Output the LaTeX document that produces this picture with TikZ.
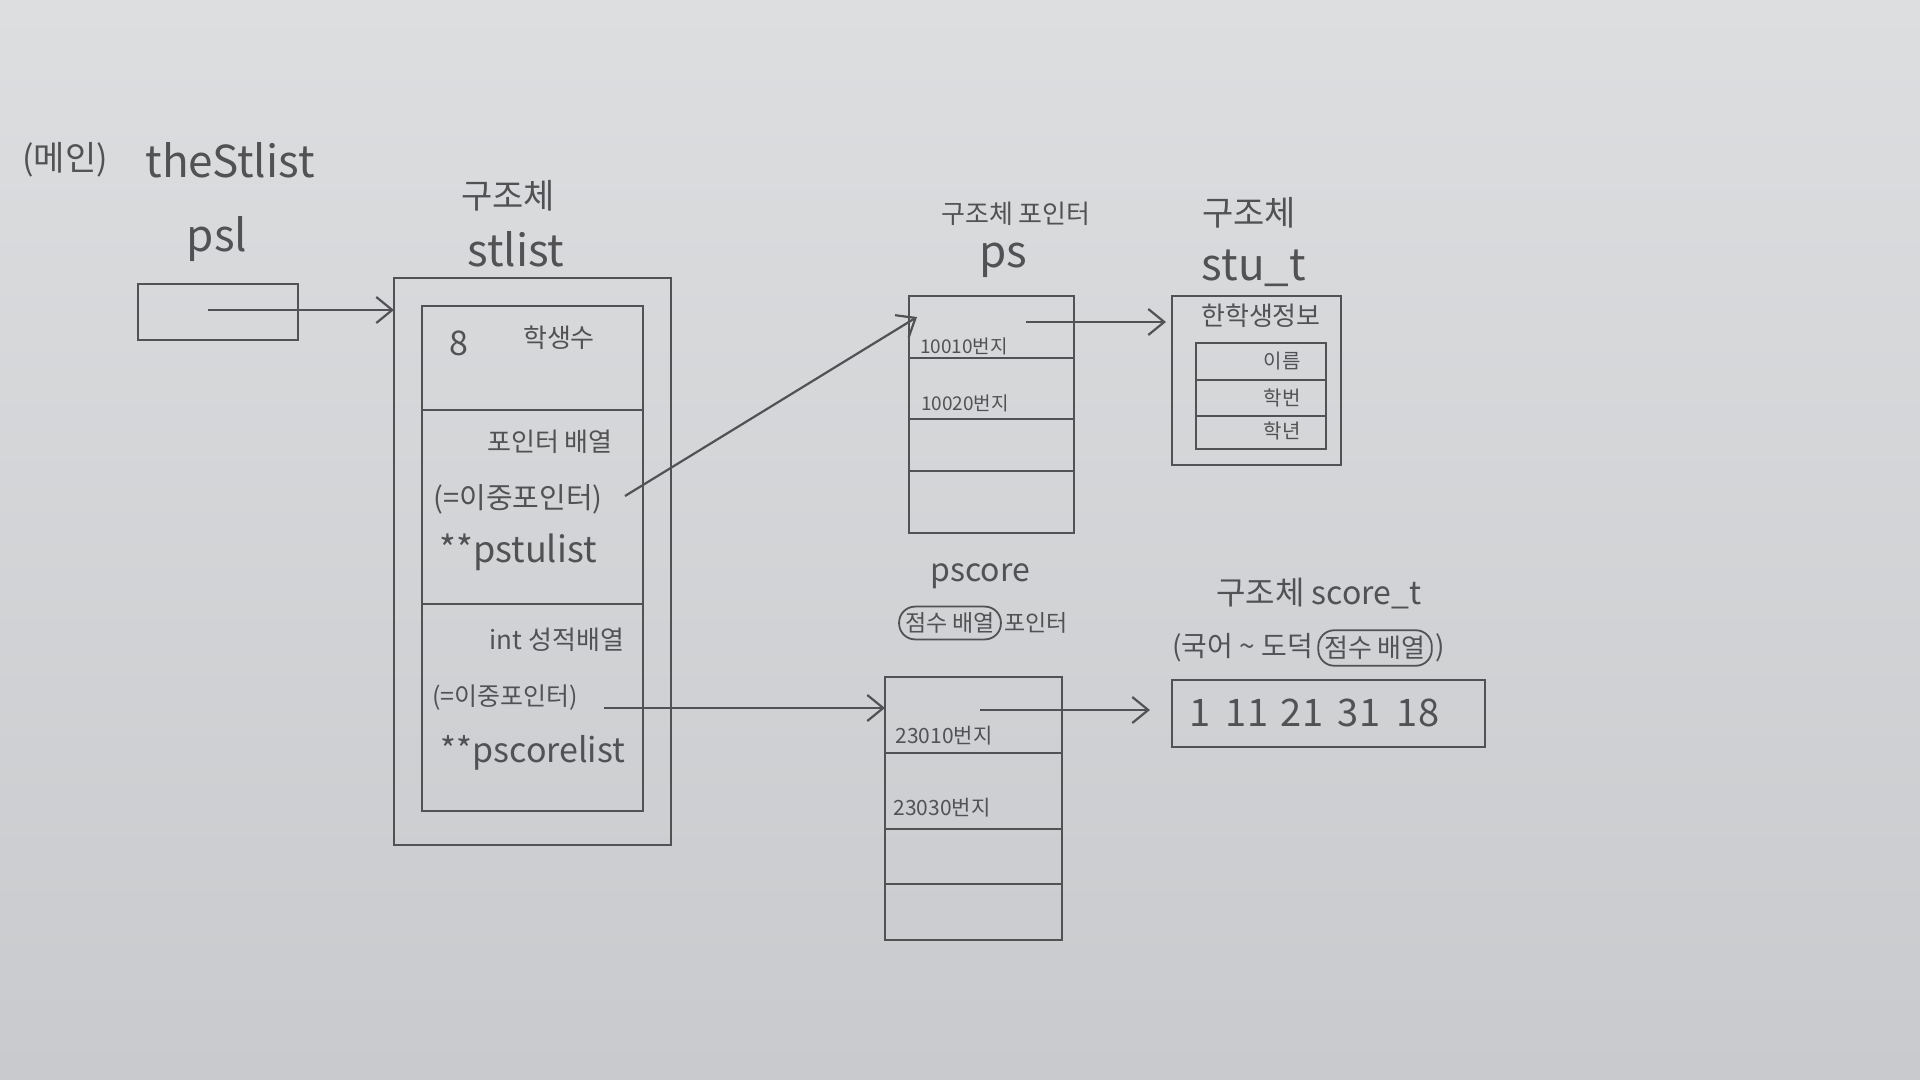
\documentclass[tikz,border=0pt]{standalone}
\usepackage{fontspec}
\setmainfont{Noto Sans CJK KR}
\usetikzlibrary{positioning,arrows.meta}

\definecolor{pencil}{RGB}{82,82,84}
\definecolor{paper}{RGB}{200,202,205}
\definecolor{paperlight}{RGB}{221,222,224}
\newcommand{\handsize}[1]{\fontsize{#1}{#1}\selectfont}

\begin{document}
\begin{tikzpicture}[
    x=0.5pt, y=-0.5pt,
    node distance=0pt,
    cell/.style={
        rectangle,
        draw=pencil,
        line width=1.1pt,
        inner sep=0pt,
        outer sep=0pt
    },
    hand/.style={
        text=pencil,
        inner sep=0pt
    },
    ringed/.style={
        hand,
        draw=pencil,
        line width=0.9pt,
        rounded corners=8pt,
        inner xsep=3pt,
        inner ysep=3pt
    },
    line/.style={
        -{Straight Barb[length=8pt,width=13pt]},
        draw=pencil,
        line width=1.1pt
    }
]

\shade[top color=paperlight, bottom color=paper] (0,0) rectangle (1920,1080);
\useasboundingbox (0,0) rectangle (1920,1080);

% main
\node[hand, font=\handsize{17}] (main-tag) at (65,160) {(메인)};
\node[hand, font=\handsize{22}] (thestlist-name) at (230,160) {theStlist};
\node[hand, font=\handsize{22}] (psl-name) at (217,239) {psl};
\node[cell, minimum width=80pt, minimum height=28pt] (psl) at (218,312) {};

% stlist
\node[hand, font=\handsize{17}] (stlist-kind) at (508,196) {구조체};
\node[hand, font=\handsize{22}] (stlist-name) at (516,249) {stlist};
\node[cell, minimum width=138.5pt, minimum height=283.5pt] (stlist) at (532.5,561.5) {};
\node[cell, minimum width=110.5pt, minimum height=52pt] (stlist-count) at (532.5,358) {};
\node[cell, minimum width=110.5pt, minimum height=97pt, below=of stlist-count] (stlist-stu) {};
\node[cell, minimum width=110.5pt, minimum height=103.5pt, below=of stlist-stu] (stlist-score) {};

\node[hand, font=\handsize{17}] (count-val) at (459,343) {8};
\node[hand, font=\handsize{13}] (count-txt) at (559,338) {학생수};
\node[hand, font=\handsize{13}] (stu-txt1) at (550,442) {포인터 배열};
\node[hand, font=\handsize{14.5}] (stu-txt2) at (518,499) {(=이중포인터)};
\node[hand, font=\handsize{18}] (stu-txt3) at (518,552) {**pstulist};
\node[hand, font=\handsize{13}] (score-txt1) at (557,640) {int 성적배열};
\node[hand, font=\handsize{12.5}] (score-txt2) at (505,698) {(=이중포인터)};
\node[hand, font=\handsize{17}] (score-txt3) at (533,753) {**pscorelist};

% ps
\node[hand, font=\handsize{13}] (ps-kind) at (1016,214) {구조체 포인터};
\node[hand, font=\handsize{22}] (ps-name) at (1003,260) {ps};
\node[cell, minimum width=82.5pt, minimum height=31pt] (ps1) at (991.5,327) {};
\node[cell, minimum width=82.5pt, minimum height=30.5pt, below=of ps1] (ps2) {};
\node[cell, minimum width=82.5pt, minimum height=26pt, below=of ps2] (ps3) {};
\node[cell, minimum width=82.5pt, minimum height=31pt, below=of ps3] (ps4) {};
\node[hand, font=\handsize{9.5}] (ps-addr1) at (964,346) {10010번지};
\node[hand, font=\handsize{9.5}] (ps-addr2) at (965,403) {10020번지};

% stu_t
\node[hand, font=\handsize{17}] (stut-kind) at (1249,213) {구조체};
\node[hand, font=\handsize{22}] (stut-label) at (1254,268) {stu\_t};
\node[cell, minimum width=84.5pt, minimum height=84.5pt] (stut) at (1256.5,380.5) {};
\node[hand, font=\handsize{13}] (stut-title) at (1261,316) {한학생정보};
\node[cell, minimum width=65pt, minimum height=18.5pt] (stut-name) at (1261,361.5) {};
\node[cell, minimum width=65pt, minimum height=18pt, below=of stut-name] (stut-id) {};
\node[cell, minimum width=65pt, minimum height=16.5pt, below=of stut-id] (stut-grade) {};
\node[hand, font=\handsize{10}] (name-txt) at (1282,361) {이름};
\node[hand, font=\handsize{10}] (id-txt) at (1282,398) {학번};
\node[hand, font=\handsize{10}] (grade-txt) at (1282,431) {학년};

% pscore
\node[hand, font=\handsize{16}] (pscore-name) at (980,576) {pscore};
\node[ringed, font=\handsize{11.5}] (pscore-ring) at (950,623) {점수 배열};
\node[hand, font=\handsize{11.5}, right=1pt of pscore-ring] (pscore-kind) {포인터};
\node[cell, minimum width=88.5pt, minimum height=38pt] (pscore1) at (973.5,715) {};
\node[cell, minimum width=88.5pt, minimum height=38pt, below=of pscore1] (pscore2) {};
\node[cell, minimum width=88.5pt, minimum height=27.5pt, below=of pscore2] (pscore3) {};
\node[cell, minimum width=88.5pt, minimum height=28pt, below=of pscore3] (pscore4) {};
\node[hand, font=\handsize{10.5}] (pscore-addr1) at (944,736) {23010번지};
\node[hand, font=\handsize{10.5}] (pscore-addr2) at (942,808) {23030번지};

% score_t
\node[hand, font=\handsize{16}] (scoret-kind) at (1319,594) {구조체 score\_t};
\node[hand, font=\handsize{14}, anchor=west] (scoret-range) at (1172,648) {(국어 \textasciitilde{} 도덕};
\node[ringed, font=\handsize{13}, right=2pt of scoret-range] (scoret-ring) {점수 배열};
\node[hand, font=\handsize{14}, right=1pt of scoret-ring] (scoret-close) {)};
\node[cell, minimum width=156.5pt, minimum height=33.5pt] (scoret) at (1328.5,713.5) {};
\foreach \v/\px in {1/1200, 11/1247, 21/1302, 31/1359, 18/1418}
    \node[hand, font=\handsize{19}] (score-\v) at (\px,713) {\v};

% pointers
\coordinate (psl-ptr) at (208,310);
\coordinate (stu-ptr) at (625,496);
\coordinate (score-ptr) at (604,708);
\coordinate (ps-ptr) at (1026,322);
\coordinate (pscore-ptr) at (980,710);

\draw[line] (psl-ptr) -- (psl-ptr -| stlist.west);
\draw[line] (stu-ptr) -- ([xshift=4pt,yshift=5pt]ps1.west);
\draw[line] (score-ptr) -- (score-ptr -| pscore1.west);
\draw[line, shorten >=3pt] (ps-ptr) -- (ps-ptr -| stut.west);
\draw[line, shorten >=11pt] (pscore-ptr) -- (pscore-ptr -| scoret.west);

\end{tikzpicture}
\end{document}
